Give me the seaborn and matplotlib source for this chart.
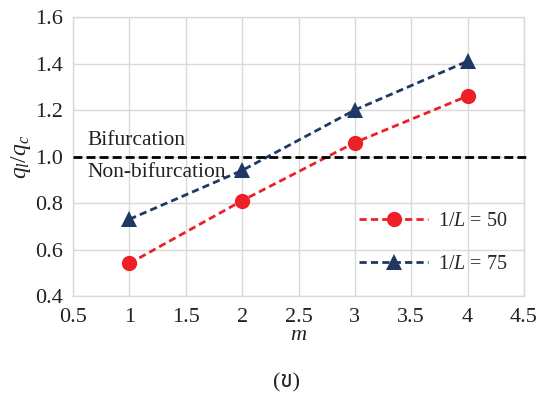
import numpy as np
import pandas as pd
import matplotlib
matplotlib.use("Agg")
import matplotlib.pyplot as plt
import seaborn as sns

# Data
m_values = [1, 2, 3, 4]
ratio_50 = [0.54, 0.81, 1.06, 1.26]
ratio_75 = [0.73, 0.94, 1.20, 1.41]
series_labels = ["1/$L$ = 50", "1/$L$ = 75"]
x_ticks = [0.5, 1, 1.5, 2, 2.5, 3, 3.5, 4, 4.5]
y_ticks = [0.4, 0.6, 0.8, 1.0, 1.2, 1.4, 1.6]

df = pd.DataFrame({
    "m": m_values * 2,
    "ratio": ratio_50 + ratio_75,
    "series": [series_labels[0]] * 4 + [series_labels[1]] * 4,
})

sns.set_theme(style="whitegrid")
plt.rcParams["font.family"] = ["Liberation Serif", "Noto Sans Thai", "DejaVu Sans"]
plt.rcParams["mathtext.fontset"] = "custom"
plt.rcParams["mathtext.rm"] = "Liberation Serif"
plt.rcParams["mathtext.it"] = "Liberation Serif:italic"

fig = plt.figure(figsize=(5.48, 4.03), dpi=100)
ax = fig.add_axes([73 / 548, 1 - 296 / 403, (524 - 73) / 548, (296 - 17) / 403])

palette = {series_labels[0]: "#EE2027", series_labels[1]: "#1F3864"}
markers = {series_labels[0]: "o", series_labels[1]: "^"}
for label in series_labels:
    sub = df[df["series"] == label]
    sns.lineplot(data=sub, x="m", y="ratio", ax=ax, color=palette[label],
                 marker=markers[label], markersize=11, markeredgewidth=0,
                 linestyle=(0, (2.6, 1.5)), linewidth=2, label=label)

# Bifurcation threshold
ax.plot([0.5, 4.52], [1.0, 1.0], color="black", linestyle=(0, (3.2, 1.5)),
        linewidth=2, clip_on=False, zorder=3)
ax.text(0.63, 1.03, "Bifurcation", fontsize=15.5, color="#222222", va="bottom")
ax.text(0.63, 0.97, "Non-bifurcation", fontsize=15.5, color="#222222", va="top")

ax.set_xlim(0.5, 4.5)
ax.set_ylim(0.4, 1.6)
ax.set_xticks(x_ticks)
ax.set_xticklabels(["0.5", "1", "1.5", "2", "2.5", "3", "3.5", "4", "4.5"])
ax.set_yticks(y_ticks)
ax.set_yticklabels([f"{v:.1f}" for v in y_ticks])
ax.tick_params(labelsize=16, colors="#222222", length=0)
ax.tick_params(axis="x", pad=9)
ax.tick_params(axis="y", pad=7)

ax.grid(True, color="#D9D9D9", linewidth=1)
for s in ax.spines.values():
    s.set_color("#D9D9D9")
    s.set_linewidth(1)

ax.set_xlabel("$m$", fontsize=16, color="#222222", labelpad=-1)
ax.set_ylabel("$q_l/q_c$", fontsize=17, color="#222222", labelpad=2)

ax.legend(loc="center left", bbox_to_anchor=(0.595, 0.19), frameon=False,
          fontsize=14.5, handlelength=3.4, labelspacing=1.2, handletextpad=0.5)

fig.text(286 / 548, 1 - 383 / 403, "(ข)", fontsize=16, ha="center", va="center",
         color="#222222")

fig.savefig("out.png", dpi=100)
